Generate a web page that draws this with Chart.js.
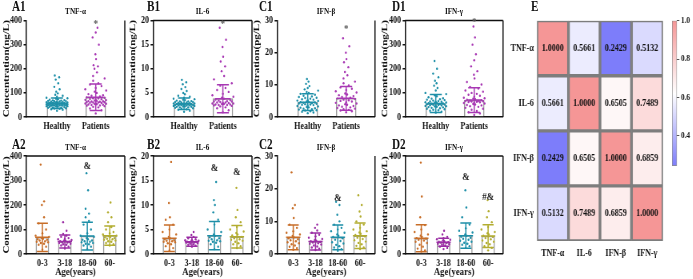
<!DOCTYPE html>
<html>
<head>
<meta charset="UTF-8">
<title>Cytokine panels</title>
<script src="https://cdn.jsdelivr.net/npm/chart.js"></script>
<style>
  body { margin:0; width:693px; height:279px; overflow:hidden; background:#fff; }
  #stage { position:absolute; left:0; top:0; width:867px; height:279px; transform:scaleX(0.8); transform-origin:0 0; }
  #stage canvas, .lbl { position:absolute; }
  .lbl { font-family:"Liberation Serif", serif; font-weight:bold; color:#111; white-space:nowrap; line-height:1; }
  .tag { font-size:14px; }
  .ttl { font-size:9px; transform:translateX(-50%); }
</style>
</head>
<body>
<div id="stage"></div>
<script>
// ---- data ----
const groupLabels = ['Healthy', 'Patients'];
const ageLabels = ['0-3', '3-18', '18-60', '60-'];

const tnfHealthy = [26,30,32,34,35,36,38,39,40,41,42,43,44,45,45,46,47,47,48,48,49,49,50,50,51,51,52,52,53,53,54,54,55,55,56,56,57,57,58,58,59,59,60,60,61,62,62,63,64,65,66,67,68,69,70,72,74,76,78,80,84,88,92,98,105,115,125,140,155,165,172];
const tnfPatients = [15,28,35,40,42,45,47,48,50,51,52,53,54,55,56,57,58,59,60,60,61,62,63,64,65,66,67,68,70,71,72,74,75,77,78,80,82,85,88,90,95,100,105,110,115,120,128,135,140,150,160,170,185,200,210,215,240,260,300,330,350,370];
const il6Healthy = [1.1,1.3,1.5,1.6,1.7,1.8,1.9,2.0,2.0,2.1,2.1,2.2,2.2,2.3,2.3,2.3,2.4,2.4,2.4,2.5,2.5,2.5,2.6,2.6,2.6,2.7,2.7,2.7,2.8,2.8,2.8,2.9,2.9,3.0,3.0,3.1,3.1,3.2,3.2,3.3,3.4,3.5,3.6,3.7,3.8,4.0,4.2,4.4,4.7,5.0,5.4,5.8,6.2,6.8,7.2,7.7];
const il6Patients = [1.0,1.4,1.8,2.0,2.2,2.3,2.4,2.5,2.5,2.6,2.6,2.7,2.7,2.8,2.8,2.9,2.9,3.0,3.0,3.1,3.2,3.2,3.3,3.4,3.5,3.6,3.8,4.0,4.2,4.5,4.8,5.2,5.6,6.0,6.5,7.0,7.8,8.5,9.5,10.5,11.5,12.5,14.5,16.0,18.5];
const ifnbHealthy = [1.2,1.4,1.6,1.8,2.0,2.1,2.3,2.4,2.6,2.7,2.9,3.0,3.1,3.3,3.4,3.5,3.7,3.8,3.9,4.0,4.1,4.2,4.3,4.4,4.5,4.6,4.7,4.8,5.0,5.1,5.2,5.4,5.5,5.7,5.9,6.0,6.2,6.4,6.6,6.9,7.2,7.5,7.8,8.2,8.6,9.0,9.6,10.3,11.0,11.8];
const ifnbPatients = [1.5,1.8,2.0,2.2,2.4,2.6,2.8,3.0,3.2,3.4,3.6,3.8,4.0,4.2,4.4,4.6,4.8,5.0,5.2,5.4,5.6,5.8,6.0,6.2,6.5,6.8,7.0,7.3,7.6,8.0,8.4,8.8,9.2,9.8,10.5,11.0,12.0,13.0,14.0,15.5,17.0,18.0,20.0,22.0,24.5];
const ifngHealthy = [18,22,26,28,30,32,34,36,38,40,41,42,44,45,46,47,48,49,50,51,52,53,54,55,56,57,58,59,60,61,62,63,64,66,68,70,72,74,76,78,82,86,90,95,100,110,120,130,140,150,165,180,200,232];
const ifngPatients = [8,15,20,25,30,34,38,42,45,48,50,52,54,56,58,60,61,62,63,64,65,66,67,68,70,72,74,76,78,80,84,88,92,96,100,105,110,118,125,135,145,160,175,190,210,235,260,300,330,375];

const tnfGroupMean = [57, 82], tnfGroupSd = [22, 55];
const il6GroupMean = [2.76, 3.8], il6GroupSd = [1.2, 2.9];
const ifnbGroupMean = [4.6, 5.8], ifnbGroupSd = [2.6, 3.7];
const ifngGroupMean = [56, 70], ifngGroupSd = [37, 51];
const groupStarY = [384, 19.3, 27.3, 392]; // '*' above Patients

const tnfAge03 = [18,30,38,42,45,48,50,52,55,58,60,62,65,70,75,85,100,125,150,200,215,365];
const tnfAge318 = [22,30,35,38,40,42,45,47,48,50,52,54,55,57,60,62,65,70,75,82,95,130];
const tnfAge1860 = [20,30,35,40,42,45,48,50,52,55,58,60,65,70,75,85,100,120,135,150,165,185,260,330];
const tnfAge60 = [35,40,45,50,52,55,58,60,62,65,68,70,72,75,80,85,90,100,110,130,150,170,210];
const il6Age03 = [0.7,1.2,1.6,2.0,2.2,2.4,2.5,2.6,2.7,2.8,3.0,3.2,3.5,4.0,4.5,5.0,6.0,7.0,7.5,10.4,18.8];
const il6Age318 = [1.5,1.7,1.9,2.0,2.1,2.2,2.3,2.4,2.4,2.5,2.5,2.6,2.6,2.7,2.8,2.9,3.0,3.2,3.5,3.9,4.5];
const il6Age1860 = [1.0,1.5,2.0,2.3,2.5,2.6,2.7,2.8,3.0,3.2,3.4,3.7,4.0,4.5,5.0,6.0,7.0,8.5,10.0,11.0,14.7];
const il6Age60 = [1.2,1.6,2.0,2.2,2.5,2.7,2.9,3.0,3.2,3.5,3.8,4.0,4.3,4.6,5.0,5.5,6.5,7.5,9.0,13.5];
const ifnbAge03 = [1.3,1.8,2.2,2.6,3.0,3.3,3.6,3.9,4.2,4.5,4.8,5.1,5.5,6.0,6.5,7.0,8.0,9.0,11.0,14.0,15.0,25.0];
const ifnbAge318 = [1.2,1.6,2.0,2.3,2.6,2.9,3.1,3.3,3.5,3.7,3.9,4.1,4.3,4.6,5.0,5.4,5.9,6.5,7.2,8.0,9.0];
const ifnbAge1860 = [1.0,1.5,2.0,2.4,2.8,3.2,3.6,4.0,4.4,4.8,5.2,5.6,6.0,6.5,7.0,7.5,8.0,9.0,10.0,12.0,15.0,16.0];
const ifnbAge60 = [1.5,2.0,2.5,3.0,3.4,3.8,4.2,4.6,5.0,5.4,5.8,6.2,6.6,7.0,7.5,8.0,9.0,10.0,11.5,13.0,15.0,18.0];
const ifngAge03 = [10,15,22,30,38,45,50,55,58,62,65,70,75,80,90,100,118,150,235,373];
const ifngAge318 = [20,25,30,35,38,40,42,45,47,48,50,52,55,58,60,64,70,80,95];
const ifngAge1860 = [25,32,38,42,46,50,54,58,62,66,70,75,80,88,95,105,120,150,190,260];
const ifngAge60 = [15,25,32,40,45,50,55,60,65,70,75,80,85,90,100,110,130,150,175,220];

const tnfAgeMean = [68, 51, 73, 75], tnfAgeSd = [58, 27, 57, 39];
const il6AgeMean = [3.2, 2.5, 3.75, 3.5], il6AgeSd = [2.7, 0.9, 2.9, 2.3];
const ifnbAgeMean = [5.1, 3.8, 5.1, 5.6], ifnbAgeSd = [3.8, 2.6, 3.8, 3.9];
const ifngAgeMean = [64, 48, 75, 73], ifngAgeSd = [55, 16, 52, 46];
const ageMarkText = [['', '', '&', ''], ['', '', '&', '&'], ['', '', '&', ''], ['', '', '&', '#&']];
const ageMarkY = [[0, 0, 360, 0], [0, 0, 17.5, 16.7], [0, 0, 17, 0], [0, 0, 312, 233]];

const corrLabels = ['TNF-α', 'IL-6', 'IFN-β', 'IFN-γ'];
const corrMatrix = [
  [1.0000, 0.5661, 0.2429, 0.5132],
  [0.5661, 1.0000, 0.6505, 0.7489],
  [0.2429, 0.6505, 1.0000, 0.6859],
  [0.5132, 0.7489, 0.6859, 1.0000]
];
const colorbarTicks = [0.4, 0.6, 0.8, 1.0];
const colorbarMin = 0.2429;

// ---- styling / layout ----
const S = 0.8;              // the figure is horizontally squeezed
const sx = v => v / S;
const FONT = '"Liberation Serif", serif';
const groupColors = ['#1d8fa8', '#a838b4'];
const ageColors = ['#c86e28', '#9a2ca4', '#1d8fa8', '#b3ad30'];
const cmapStops = [[colorbarMin, [125, 125, 250]], [0.62, [255, 255, 255]], [1.0, [245, 150, 150]]];
const jit = [0, 0.55, -0.55, 0.25, -0.25, 0.85, -0.85, 0.4, -0.4, 0.7, -0.7, 0.1, -0.1, 1.0, -1.0];

const stage = document.getElementById('stage');

function addLabel(text, x, y, cls) {
  const d = document.createElement('div');
  d.className = 'lbl ' + cls;
  d.textContent = text;
  d.style.left = sx(x) + 'px';
  d.style.top = y + 'px';
  stage.appendChild(d);
}

function cmap(v) {
  for (let i = 0; i < cmapStops.length - 1; i++) {
    const [a, ca] = cmapStops[i], [b, cb] = cmapStops[i + 1];
    if (v <= b || i === cmapStops.length - 2) {
      const t = Math.max(0, Math.min(1, (v - a) / (b - a)));
      const c = ca.map((q, k) => Math.round(q + (cb[k] - q) * t));
      return `rgb(${c[0]},${c[1]},${c[2]})`;
    }
  }
}

function makePanel(p) {
  const cl = Math.round(sx(p.axis - 24));
  const cw = Math.round(sx(p.right + 3)) - cl;
  const cv = document.createElement('canvas');
  cv.width = cw; cv.height = p.ch;
  cv.style.left = cl + 'px'; cv.style.top = p.ct + 'px';
  stage.appendChild(cv);

  const datasets = [{
    type: 'bar',
    data: p.means.map((m, i) => ({x: i, y: m})),
    backgroundColor: '#ffffff',
    borderColor: '#9b9b9b',
    borderWidth: 1.5,
    barThickness: p.barW,
    order: 3
  }];
  p.points.forEach((vals, i) => {
    datasets.push({
      type: 'scatter',
      data: vals.map((v, k) => {
        const far = v > p.means[i] + 1.5 * p.sds[i];
        return {x: i + jit[k % jit.length] * p.spread * (far ? 0.3 : 1), y: v};
      }),
      backgroundColor: p.colors[i],
      pointRadius: 1.2,
      borderWidth: 0,
      order: 1
    });
  });

  const tickFont = {family: FONT, size: 10, weight: 'bold'};
  new Chart(cv, {
    type: 'scatter',
    data: {datasets},
    options: {
      responsive: false,
      animation: false,
      events: [],
      layout: {padding: {top: p.plotTop - p.ct, right: cl + cw - sx(p.right), left: 0, bottom: 0}},
      plugins: {legend: {display: false}, tooltip: {enabled: false}},
      scales: {
        x: {
          type: 'linear', min: p.xMin, max: p.xMax, bounds: 'data', offset: false,
          afterBuildTicks: s => { s.ticks = p.cats.map((c, i) => ({value: i})); },
          afterFit: s => { s.height = p.ct + p.ch - p.plotBottom; },
          ticks: {callback: v => p.cats[v], font: tickFont, color: '#111', padding: p.xPad, maxRotation: 0, autoSkip: false},
          grid: {display: false, drawTicks: false},
          border: {display: true, color: '#111', width: 1.5},
          title: p.xTitle ? {display: true, text: p.xTitle, color: '#111', font: {family: FONT, size: 11, weight: 'bold', lineHeight: 1}, padding: {top: 1, bottom: 1}} : {display: false}
        },
        y: {
          min: 0, max: p.yMax, bounds: 'data',
          afterFit: s => { s.width = sx(p.axis) - cl; },
          ticks: {stepSize: p.yStep, font: tickFont, color: '#111', padding: 2},
          grid: {drawOnChartArea: false, drawTicks: true, tickLength: 3, color: '#111', lineWidth: 1.5},
          border: {display: true, color: '#111', width: 1.5},
          title: {display: true, text: p.yTitle, color: '#111', font: {family: FONT, size: 11, weight: 'bold', lineHeight: 1}, padding: 0}
        }
      }
    },
    plugins: [{
      id: 'decor',
      afterDatasetsDraw(chart) {
        const {ctx, chartArea: a, scales: {x, y}} = chart;
        ctx.save();
        ctx.lineWidth = 1.5;
        p.means.forEach((m, i) => {
          const px = x.getPixelForValue(i);
          const hi = y.getPixelForValue(m + p.sds[i]);
          const lo = y.getPixelForValue(Math.max(0, m - p.sds[i]));
          const mid = y.getPixelForValue(m);
          ctx.strokeStyle = p.colors[i];
          ctx.beginPath();
          ctx.moveTo(px, hi); ctx.lineTo(px, lo);
          ctx.moveTo(px - p.cap, hi); ctx.lineTo(px + p.cap, hi);
          ctx.moveTo(px - p.cap, lo); ctx.lineTo(px + p.cap, lo);
          ctx.moveTo(px - p.cap * 1.3, mid); ctx.lineTo(px + p.cap * 1.3, mid);
          ctx.stroke();
        });
        ctx.strokeStyle = '#111';
        ctx.beginPath();
        if (p.boxTop) { ctx.moveTo(a.left, a.top); ctx.lineTo(a.right, a.top); }
        ctx.moveTo(a.right, a.top); ctx.lineTo(a.right, a.bottom);
        ctx.stroke();
        ctx.font = 'bold 11px ' + FONT;
        ctx.textAlign = 'center';
        ctx.textBaseline = 'middle';
        p.marks.forEach((t, i) => {
          if (!t) return;
          ctx.fillStyle = t === '*' ? '#555' : '#222';
          ctx.fillText(t, x.getPixelForValue(i), y.getPixelForValue(p.markY[i]));
        });
        ctx.restore();
      }
    }]
  });

  addLabel(p.tag, p.tagX, p.ct === 0 ? 0 : 138, 'tag');
  addLabel(p.title, (p.axis + p.right) / 2, p.ct === 0 ? 7 : 143, 'ttl');
}

const colsX = [
  {axis: 26, right: 125, tagX: 12},
  {axis: 153, right: 252, tagX: 147},
  {axis: 277, right: 375, tagX: 259},
  {axis: 405, right: 503, tagX: 392}
];
const topRow = {ct: 0, ch: 137, plotTop: 20.5, plotBottom: 117, xMin: -0.8, xMax: 1.75, barW: sx(20), spread: 0.27, cap: sx(6), xPad: 3, cats: groupLabels, colors: groupColors};
const botRow = {ct: 140, ch: 139, plotTop: 156, plotBottom: 254, xMin: -0.73, xMax: 3.67, barW: sx(13), spread: 0.3, cap: sx(5.5), xPad: 3, cats: ageLabels, colors: ageColors, xTitle: 'Age(years)'};

const star = () => ['', '*'];
const topPanels = [
  {tag: 'A1', title: 'TNF-α', yMax: 400, yStep: 100, yTitle: 'Concentration(ng/L)', points: [tnfHealthy, tnfPatients], means: tnfGroupMean, sds: tnfGroupSd, markY: [0, groupStarY[0]], boxTop: false},
  {tag: 'B1', title: 'IL-6', yMax: 20, yStep: 5, yTitle: 'Concentration(ng/L)', points: [il6Healthy, il6Patients], means: il6GroupMean, sds: il6GroupSd, markY: [0, groupStarY[1]], boxTop: true},
  {tag: 'C1', title: 'IFN-β', yMax: 30, yStep: 10, yTitle: 'Concentration(pg/L)', points: [ifnbHealthy, ifnbPatients], means: ifnbGroupMean, sds: ifnbGroupSd, markY: [0, groupStarY[2]], boxTop: false},
  {tag: 'D1', title: 'IFN-γ', yMax: 400, yStep: 100, yTitle: 'Concentration(ng/L)', points: [ifngHealthy, ifngPatients], means: ifngGroupMean, sds: ifngGroupSd, markY: [0, groupStarY[3]], boxTop: true}
];
const botPanels = [
  {tag: 'A2', title: 'TNF-α', yMax: 400, yStep: 100, yTitle: 'Concentration(ng/L)', points: [tnfAge03, tnfAge318, tnfAge1860, tnfAge60], means: tnfAgeMean, sds: tnfAgeSd, boxTop: true},
  {tag: 'B2', title: 'IL-6', yMax: 20, yStep: 5, yTitle: 'Concentration(ng/L)', points: [il6Age03, il6Age318, il6Age1860, il6Age60], means: il6AgeMean, sds: il6AgeSd, boxTop: true},
  {tag: 'C2', title: 'IFN-β', yMax: 30, yStep: 10, yTitle: 'Concentration(ng/L)', points: [ifnbAge03, ifnbAge318, ifnbAge1860, ifnbAge60], means: ifnbAgeMean, sds: ifnbAgeSd, boxTop: false},
  {tag: 'D2', title: 'IFN-γ', yMax: 400, yStep: 100, yTitle: 'Concentration(ng/L)', points: [ifngAge03, ifngAge318, ifngAge1860, ifngAge60], means: ifngAgeMean, sds: ifngAgeSd, boxTop: true}
];
topPanels.forEach((p, i) => makePanel(Object.assign({}, topRow, colsX[i], p, {marks: star()})));
botPanels.forEach((p, i) => makePanel(Object.assign({}, botRow, colsX[i], p, {marks: ageMarkText[i], markY: ageMarkY[i]})));

// ---- E: correlation heatmap ----
(function () {
  const cl = Math.round(sx(490)), cw = Math.round(sx(665)) - cl;
  const cv = document.createElement('canvas');
  cv.width = cw; cv.height = 279;
  cv.style.left = cl + 'px'; cv.style.top = '0px';
  stage.appendChild(cv);
  const f = {family: FONT, size: 10, weight: 'bold'};
  new Chart(cv, {
    type: 'bar',
    data: {
      labels: corrLabels,
      datasets: corrMatrix.map((row, r) => ({
        data: row.map(() => [r, r + 1]),
        backgroundColor: row.map(cmap),
        borderColor: '#7d7d7d',
        borderWidth: 2,
        borderSkipped: false,
        grouped: false,
        barPercentage: 1,
        categoryPercentage: 1
      }))
    },
    options: {
      responsive: false, animation: false, events: [],
      layout: {padding: {top: 20.7, right: cl + cw - sx(663), left: 0, bottom: 0}},
      plugins: {legend: {display: false}, tooltip: {enabled: false}},
      scales: {
        x: {grid: {display: false, drawTicks: false}, border: {display: false}, ticks: {font: f, color: '#111', padding: 6},
            afterFit: s => { s.height = 279 - 241; }},
        y: {type: 'linear', min: 0, max: 4, reverse: true, bounds: 'data',
            afterBuildTicks: s => { s.ticks = corrLabels.map((c, i) => ({value: i + 0.5})); },
            afterFit: s => { s.width = sx(537) - cl; },
            ticks: {callback: v => corrLabels[Math.floor(v)], font: f, color: '#111', padding: 4},
            grid: {display: false, drawTicks: false}, border: {display: false}}
      }
    },
    plugins: [{
      id: 'cellText',
      afterDatasetsDraw(chart) {
        const ctx = chart.ctx;
        ctx.save();
        ctx.font = 'bold 10px ' + FONT;
        ctx.fillStyle = '#111';
        ctx.textAlign = 'center';
        ctx.textBaseline = 'middle';
        corrMatrix.forEach((row, r) => {
          chart.getDatasetMeta(r).data.forEach((el, c) => {
            ctx.fillText(row[c].toFixed(4), el.x, (el.y + el.base) / 2);
          });
        });
        ctx.restore();
      }
    }]
  });
  addLabel('E', 531, 0, 'tag');
})();

// ---- colour bar ----
(function () {
  const cl = Math.round(sx(665)), cw = Math.round(sx(693)) - cl;
  const cv = document.createElement('canvas');
  cv.width = cw; cv.height = 279;
  cv.style.left = cl + 'px'; cv.style.top = '0px';
  stage.appendChild(cv);
  new Chart(cv, {
    type: 'bar',
    data: {
      labels: [''],
      datasets: [{
        data: [[colorbarMin, 1.0]],
        backgroundColor: c => {
          const ch = c.chart;
          if (!ch.chartArea) return '#fff';
          const y = ch.scales.y;
          const g = ch.ctx.createLinearGradient(0, y.getPixelForValue(colorbarMin), 0, y.getPixelForValue(1.0));
          cmapStops.forEach(([v, col]) => g.addColorStop((v - colorbarMin) / (1 - colorbarMin), `rgb(${col.join(',')})`));
          return g;
        },
        borderColor: '#8a8a8a', borderWidth: 1, borderSkipped: false,
        barPercentage: 1, categoryPercentage: 1
      }]
    },
    options: {
      responsive: false, animation: false, events: [],
      layout: {padding: {top: 20.7, left: sx(672) - cl, right: 0, bottom: 279 - 166}},
      plugins: {legend: {display: false}, tooltip: {enabled: false}},
      scales: {
        x: {display: false},
        y: {position: 'right', min: colorbarMin, max: 1.0, bounds: 'data',
            afterBuildTicks: s => { s.ticks = colorbarTicks.map(v => ({value: v})); },
            afterFit: s => { s.width = cl + cw - sx(677); },
            ticks: {callback: v => v.toFixed(1), font: {family: FONT, size: 9, weight: 'bold'}, color: '#111', padding: 2},
            grid: {drawOnChartArea: false, tickLength: 3, color: '#555'},
            border: {display: false}}
      }
    }
  });
})();
</script>
</body>
</html>
